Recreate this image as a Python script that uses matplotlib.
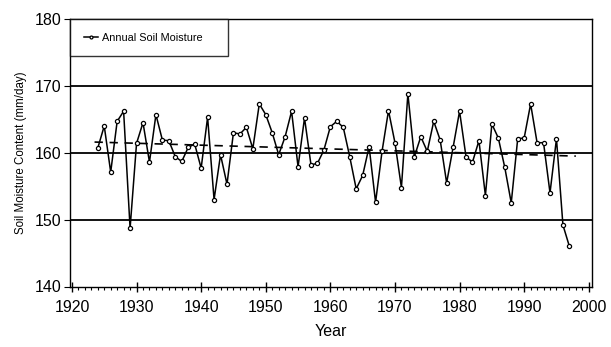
import matplotlib
matplotlib.use("Agg")
import matplotlib.pyplot as plt
from matplotlib.ticker import MultipleLocator
import numpy as np

plt.rcParams['font.family'] = ['Liberation Sans', 'DejaVu Sans']

years = list(range(1924, 1998))
moisture = [
    160.7, 164.0, 157.1, 164.7, 166.2, 148.7, 161.4, 164.5, 158.6, 165.7,  # 1924-1933
    161.9, 161.8, 159.4, 158.7, 160.8, 161.3, 157.7, 165.3, 153.0, 159.7,  # 1934-1943
    155.3, 163.0, 162.8, 163.8, 160.6, 167.3, 165.7, 163.0, 159.7, 162.4,  # 1944-1953
    166.2, 157.9, 165.2, 158.2, 158.4, 160.4, 163.9, 164.7, 163.8, 159.4,  # 1954-1963
    154.6, 156.6, 160.9, 152.6, 160.2, 166.3, 161.5, 154.8, 168.8, 159.4,  # 1964-1973
    162.4, 160.2, 164.7, 161.9, 155.5, 160.8, 166.2, 159.4, 158.6, 161.8,  # 1974-1983
    153.6, 164.3, 162.2, 157.8, 152.5, 162.1, 162.2, 167.3, 161.5, 161.5,  # 1984-1993
    154.0, 162.1, 149.2, 146.0,                                            # 1994-1997
]
trend_years = [1923.5, 1998.0]
trend_values = [161.6, 159.5]
gridlines = [150, 160, 170]
x_ticks = list(range(1920, 2001, 10))
y_ticks = [140, 150, 160, 170, 180]

fig = plt.figure(figsize=(6.11, 3.47), dpi=100)
ax = fig.add_axes([70/611, 1 - 286.5/347, (592 - 70)/611, (286.5 - 19)/347])

for g in gridlines:
    ax.axhline(g, color='black', lw=1.3, zorder=1)

ax.plot(trend_years, trend_values, color='black', lw=1.2, ls=(0, (5, 4)), zorder=2)
ax.plot(years, moisture, color='black', lw=1.1, marker='o', ms=3.0,
        mfc='white', mec='black', mew=0.9, zorder=3, label='Annual Soil Moisture')

ax.set_xlim(1919.7, 2000.5)
ax.set_ylim(140, 180)
ax.set_xticks(x_ticks)
ax.set_yticks(y_ticks)
ax.xaxis.set_minor_locator(MultipleLocator(1))
ax.tick_params(axis='x', which='major', direction='inout', length=7, width=1, labelsize=11.5, pad=6)
ax.tick_params(axis='x', which='minor', direction='out', length=2.5, width=0.8)
ax.tick_params(axis='y', which='major', direction='out', length=4, width=0.8, labelsize=11.5, pad=2)
for s in ax.spines.values():
    s.set_linewidth(1.0)

ax.set_xlabel('Year', fontsize=11.5, labelpad=7)
ax.set_ylabel('Soil Moisture Content (mm/day)', fontsize=8.3, labelpad=6)

leg = ax.legend(loc='upper left', bbox_to_anchor=(0., 0., 158/522, 1.0), mode='expand',
                borderaxespad=0, frameon=True, fancybox=False, edgecolor='black',
                fontsize=7.8, handlelength=1.3, handletextpad=0.4, borderpad=1.25,
                markerscale=0.7)
leg.get_frame().set_linewidth(1.0)

fig.savefig('out.png', dpi=100)
